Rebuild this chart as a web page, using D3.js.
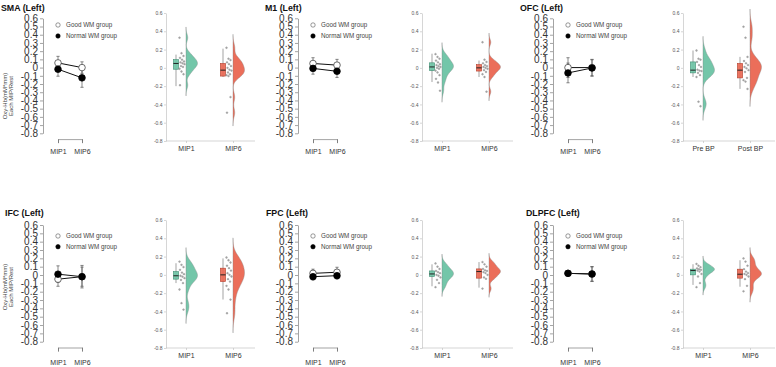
<!DOCTYPE html>
<html>
<head>
<meta charset="utf-8">
<script src="https://cdn.jsdelivr.net/npm/d3@7"></script>
<style>
body { margin: 0; background: #fff; }
svg { display: block; }
</style>
</head>
<body>
<svg id="fig" width="776" height="367"></svg>
<script>
// panel titles and labels
var regions = ["SMA (Left)", "M1 (Left)", "OFC (Left)", "IFC (Left)", "FPC (Left)", "DLPFC (Left)"];
var sessions = ["MIP1", "MIP6"];
var groups = ["Good WM group", "Normal WM group"];
var lineTicks = [0.6, 0.5, 0.4, 0.3, 0.2, 0.1, 0, -0.1, -0.2, -0.3, -0.4, -0.5, -0.6, -0.7, -0.8];
var rainTicks = [0.6, 0.4, 0.2, 0, -0.2, -0.4, -0.6, -0.8];
var rainLabels = [["MIP1", "MIP6"], ["MIP1", "MIP6"], ["Pre BP", "Post BP"],
                  ["MIP1", "MIP6"], ["MIP1", "MIP6"], ["MIP1", "MIP6"]];

// group means and error bars, [MIP1, MIP6] per panel
var goodMean   = [[0.057, 0.0], [0.05, 0.03], [0.0, 0.0], [-0.05, -0.02], [0.02, 0.033], [0.02, 0.012]];
var goodErr    = [[0.08, 0.07], [0.07, 0.07], [0.12, 0.1], [0.085, 0.115], [0.05, 0.06], [0.03, 0.09]];
var normalMean = [[-0.02, -0.125], [-0.01, -0.045], [-0.065, -0.005], [0.01, -0.02], [-0.02, -0.008], [0.02, 0.012]];
var normalErr  = [[0.085, 0.115], [0.07, 0.075], [0.12, 0.1], [0.1, 0.135], [0.04, 0.04], [0.03, 0.085]];

// individual values for the raincloud plots, [first, second] per panel
var rainPoints = [
  [[0.33, 0.16, 0.13, 0.11, 0.09, 0.07, 0.06, 0.05, 0.04, 0.02, 0.01, -0.01, -0.04, -0.07, -0.19],
   [0.22, 0.1, 0.085, 0.06, 0.04, 0.02, 0.0, -0.02, -0.03, -0.05, -0.07, -0.08, -0.09, -0.32, -0.49]],
  [[0.15, 0.12, 0.1, 0.08, 0.06, 0.04, 0.03, 0.02, 0.01, 0.0, -0.01, -0.03, -0.05, -0.08, -0.12, -0.16, -0.25],
   [0.28, 0.09, 0.065, 0.05, 0.03, 0.02, 0.01, 0.0, -0.01, -0.025, -0.045, -0.07, -0.1, -0.26]],
  [[0.19, 0.1, 0.09, 0.065, 0.03, 0.01, -0.02, -0.03, -0.035, -0.055, -0.08, -0.1, -0.37, -0.42],
   [0.45, 0.33, 0.12, 0.075, 0.05, 0.03, 0.01, -0.005, -0.025, -0.045, -0.11, -0.135, -0.15, -0.23]],
  [[0.145, 0.11, 0.085, 0.055, 0.025, 0.007, -0.01, -0.02, -0.036, -0.055, -0.09, -0.16, -0.31, -0.38],
   [0.19, 0.16, 0.135, 0.1, 0.073, 0.047, 0.018, 0.0, -0.018, -0.047, -0.073, -0.12, -0.16, -0.27, -0.42]],
  [[0.125, 0.09, 0.065, 0.043, 0.03, 0.018, 0.0, -0.01, -0.028, -0.054, -0.09, -0.135],
   [0.14, 0.115, 0.09, 0.065, 0.05, 0.043, 0.03, 0.02, 0.0, -0.028, -0.043, -0.15]],
  [[0.12, 0.1, 0.084, 0.07, 0.062, 0.055, 0.047, 0.036, 0.01, -0.018, -0.09, -0.135],
   [0.18, 0.145, 0.1, 0.062, 0.036, 0.02, 0.01, 0.0, -0.018, -0.047, -0.12, -0.18]]
];

// box plot stats [low whisker, q1, median, q3, high whisker]
var boxStats = [
  [[-0.2, -0.015, 0.048, 0.09, 0.145], [-0.1, -0.09, -0.025, 0.048, 0.21]],
  [[-0.155, -0.03, 0.01, 0.055, 0.155], [-0.1, -0.035, 0.0, 0.035, 0.08]],
  [[-0.1, -0.055, -0.025, 0.065, 0.19], [-0.23, -0.11, -0.025, 0.048, 0.12]],
  [[-0.09, -0.047, -0.01, 0.036, 0.127], [-0.27, -0.073, 0.0, 0.073, 0.18]],
  [[-0.125, -0.018, 0.01, 0.043, 0.115], [-0.14, -0.036, 0.036, 0.065, 0.14]],
  [[-0.11, 0.0, 0.047, 0.062, 0.116], [-0.13, -0.036, 0.007, 0.062, 0.16]]
];

var fills = ["#6cc3a4", "#ea6651"];
var strokes = ["#3f8f73", "#b43f2c"];

var svg = d3.select("#fig");

function fmt(d) {
  return d === 0 ? "0" : d.toFixed(1);
}

// R's bw.nrd0
function bandwidth(v) {
  var s = v.slice().sort(d3.ascending);
  var sd = d3.deviation(s);
  var iqr = d3.quantile(s, 0.75) - d3.quantile(s, 0.25);
  var lo = Math.min(sd, iqr / 1.34) || sd;
  return 0.9 * lo * Math.pow(s.length, -0.2);
}

function density(v) {
  var h = bandwidth(v);
  var lo = d3.min(v) - 3 * h, hi = d3.max(v) + 3 * h;
  var out = [];
  for (var k = 0; k <= 150; k++) {
    var t = lo + (hi - lo) * k / 150;
    var d = d3.mean(v, function (x) {
      var z = (t - x) / h;
      return Math.exp(-0.5 * z * z);
    });
    out.push([t, d]);
  }
  return out;
}

function drawLine(i) {
  var col = i % 3, row = Math.floor(i / 3);
  var ax = [43, 298, 553][col];
  var yr = row === 0 ? [133.3, 18.3] : [341.7, 225];
  var y = d3.scaleLinear().domain([-0.8, 0.6]).range(yr);
  var x = d3.scalePoint().domain(sessions).range([ax + 15, ax + 39]);
  var g = svg.append("g");

  // title
  g.append("text")
    .attr("x", [1, 265, 520, 5, 266, 526][i])
    .attr("y", row === 0 ? 11 : 216)
    .attr("font-family", "Liberation Sans, Arial, sans-serif")
    .attr("font-weight", "bold")
    .attr("font-size", 8.8)
    .attr("fill", "#111")
    .text(regions[i]);

  // y axis
  var yAxis = g.append("g")
    .attr("transform", "translate(" + ax + ",0)")
    .call(d3.axisLeft(y).tickValues(lineTicks).tickSize(3).tickSizeOuter(0).tickPadding(2).tickFormat(fmt));
  yAxis.selectAll("text")
    .attr("font-family", "Liberation Sans, Arial, sans-serif")
    .attr("font-size", 10)
    .attr("fill", "#333");
  yAxis.selectAll("line, path").attr("stroke", "#666").attr("stroke-width", 0.6);

  // x axis bracket
  var xAxis = g.append("g")
    .attr("transform", "translate(0," + (yr[0] + 5.8) + ")")
    .call(d3.axisBottom(x).tickSize(4).tickPadding(row === 0 ? 5.5 : 8.5));
  xAxis.selectAll("text")
    .attr("font-family", "Liberation Sans, Arial, sans-serif")
    .attr("font-size", 7)
    .attr("fill", "#333");
  xAxis.selectAll("line, path").attr("stroke", "#666").attr("stroke-width", 0.6);

  // y axis title (first column only)
  if (col === 0) {
    var cy = row === 0 ? 96 : 287;
    ["Oxy-Hb(mM*mm)", "Each MIP/Rest"].forEach(function (t, k) {
      g.append("text")
        .attr("transform", "translate(" + (7 + k * 6) + "," + cy + ") rotate(-90)")
        .attr("text-anchor", "middle")
        .attr("font-family", "Liberation Sans, Arial, sans-serif")
        .attr("font-size", 6)
        .attr("fill", "#444")
        .text(t);
    });
  }

  // legend
  var ly = row === 0 ? [25, 36] : [236, 246.7];
  groups.forEach(function (name, k) {
    g.append("circle")
      .attr("cx", ax + 15).attr("cy", ly[k]).attr("r", 2.2)
      .attr("fill", k === 0 ? "#fff" : "#000")
      .attr("stroke", k === 0 ? "#555" : "#000")
      .attr("stroke-width", 0.6);
    g.append("text")
      .attr("x", ax + 23).attr("y", ly[k])
      .attr("dy", "0.35em")
      .attr("font-family", "Liberation Sans, Arial, sans-serif")
      .attr("font-size", 6.3)
      .attr("fill", "#444")
      .text(name);
  });

  var series = [
    { mean: goodMean[i], err: goodErr[i], open: true },
    { mean: normalMean[i], err: normalErr[i], open: false }
  ];

  series.forEach(function (s) {
    s.mean.forEach(function (m, j) {
      var cx = x(sessions[j]);
      var e = s.err[j];
      g.append("line")
        .attr("x1", cx).attr("x2", cx)
        .attr("y1", y(m - e)).attr("y2", y(m + e))
        .attr("stroke", "#555").attr("stroke-width", 0.7);
      [m - e, m + e].forEach(function (v) {
        g.append("line")
          .attr("x1", cx - 1.6).attr("x2", cx + 1.6)
          .attr("y1", y(v)).attr("y2", y(v))
          .attr("stroke", "#555").attr("stroke-width", 0.7);
      });
    });
  });

  var line = d3.line()
    .x(function (d, j) { return x(sessions[j]); })
    .y(function (d) { return y(d); });

  series.forEach(function (s) {
    g.append("path")
      .attr("d", line(s.mean))
      .attr("fill", "none")
      .attr("stroke", "#111")
      .attr("stroke-width", 1);
  });

  series.forEach(function (s) {
    g.selectAll(null)
      .data(s.mean)
      .enter()
      .append("circle")
        .attr("cx", function (d, j) { return x(sessions[j]); })
        .attr("cy", function (d) { return y(d); })
        .attr("r", 3.3)
        .attr("fill", s.open ? "#fff" : "#000")
        .attr("stroke", s.open ? "#444" : "#000")
        .attr("stroke-width", 0.8);
  });
}

function drawRain(i) {
  var col = i % 3, row = Math.floor(i / 3);
  var ax = [166, 422, 683][col];
  var axEnd = [255, 513, 775][col];
  var dy = row * 207;
  var y = d3.scaleLinear().domain([-0.8, 0.6]).range([141 + dy, 13 + dy]);
  var x = d3.scalePoint().domain(rainLabels[i]).range([ax + 20, ax + 67]);
  var g = svg.append("g");

  var yAxis = g.append("g")
    .attr("transform", "translate(" + ax + ",0)")
    .call(d3.axisLeft(y).tickValues(rainTicks).tickSize(2).tickSizeOuter(0).tickPadding(1.5).tickFormat(fmt));
  yAxis.selectAll("text")
    .attr("font-family", "Liberation Sans, Arial, sans-serif")
    .attr("font-size", 5)
    .attr("fill", "#555");
  yAxis.selectAll("line, path").attr("stroke", "#bbb").attr("stroke-width", 0.6);

  var xAxis = g.append("g")
    .attr("transform", "translate(0," + (141 + dy) + ")")
    .call(d3.axisBottom(x).tickSize(2).tickPadding(3));
  xAxis.select(".domain").attr("d", "M" + ax + ",0H" + axEnd);
  xAxis.selectAll("text")
    .attr("font-family", "Liberation Sans, Arial, sans-serif")
    .attr("font-size", 7)
    .attr("fill", "#333");
  xAxis.selectAll("line, path").attr("stroke", "#bbb").attr("stroke-width", 0.6);

  rainLabels[i].forEach(function (lab, k) {
    var cx = x(lab);
    var vals = rainPoints[i][k];
    var dens = density(vals);
    var w = d3.scaleLinear().domain([0, d3.max(dens, function (d) { return d[1]; })]).range([0, 11.5]);

    // half violin
    g.append("path")
      .datum(dens)
      .attr("d", d3.area()
        .x0(cx)
        .x1(function (d) { return cx + w(d[1]); })
        .y(function (d) { return y(d[0]); })
        .curve(d3.curveBasis))
      .attr("fill", fills[k])
      .attr("fill-opacity", 0.95)
      .attr("stroke", "#888")
      .attr("stroke-width", 0.4);

    // box plot
    var b = boxStats[i][k];
    var bx = cx - 10;
    g.append("line")
      .attr("x1", bx).attr("x2", bx)
      .attr("y1", y(b[0])).attr("y2", y(b[4]))
      .attr("stroke", "#666").attr("stroke-width", 0.6);
    g.append("rect")
      .attr("x", bx - 2.6).attr("width", 5.2)
      .attr("y", y(b[3])).attr("height", y(b[1]) - y(b[3]))
      .attr("fill", fills[k])
      .attr("fill-opacity", 0.9)
      .attr("stroke", strokes[k])
      .attr("stroke-width", 0.6);
    g.append("line")
      .attr("x1", bx - 2.6).attr("x2", bx + 2.6)
      .attr("y1", y(b[2])).attr("y2", y(b[2]))
      .attr("stroke", "#222").attr("stroke-width", 1);

    // rain points
    g.selectAll(null)
      .data(vals)
      .enter()
      .append("circle")
        .attr("cx", function (d, j) { return cx - 6.5 + ((j * 37) % 11) / 10 * 5; })
        .attr("cy", function (d) { return y(d); })
        .attr("r", 0.9)
        .attr("fill", "#aaa")
        .attr("stroke", "#777")
        .attr("stroke-width", 0.3);
  });
}

for (var i = 0; i < regions.length; i++) {
  drawLine(i);
  drawRain(i);
}
</script>
</body>
</html>
